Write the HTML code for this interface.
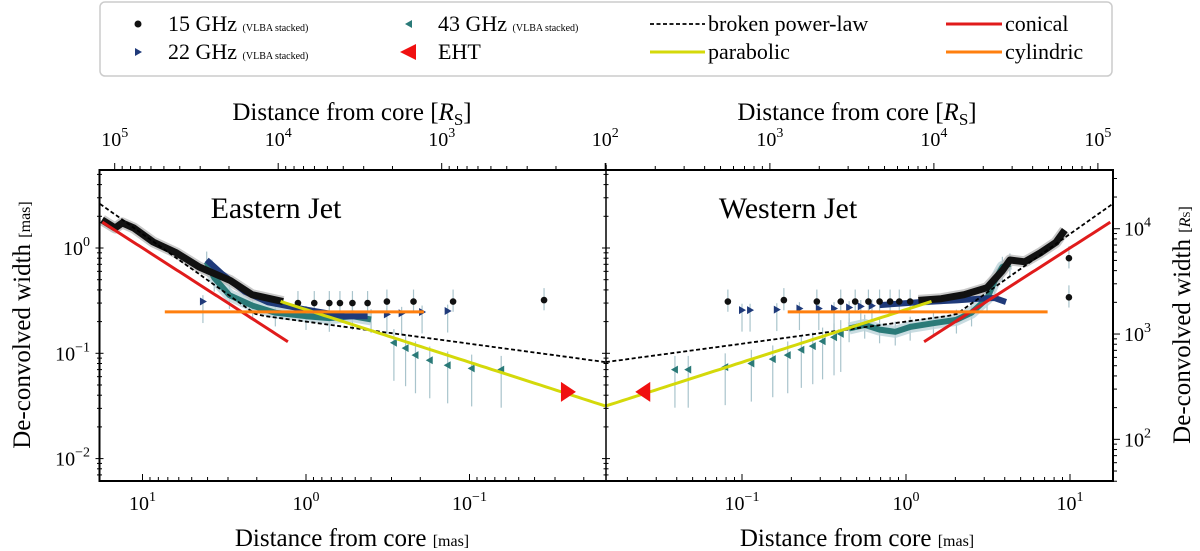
<!DOCTYPE html>
<html><head><meta charset="utf-8">
<style>
html,body{margin:0;padding:0;background:#fff;}
svg{display:block;font-family:"Liberation Serif","DejaVu Serif",serif;}
</style></head>
<body>
<svg id="chart" width="1200" height="551" viewBox="0 0 1200 551" xmlns="http://www.w3.org/2000/svg">
<defs>
<clipPath id="clipL"><rect x="99.5" y="170" width="506.5" height="311"/></clipPath>
<clipPath id="clipR"><rect x="606" y="170" width="507" height="311"/></clipPath>
</defs>
<g id="legend">
<rect x="100" y="2" width="1012" height="74" rx="5" fill="#fff" stroke="#ccc" stroke-width="1.5"/>
<g>
<circle cx="138" cy="24" r="3.5" fill="#111"/>
<text x="168" y="31" font-size="22">15 GHz <tspan font-size="10">(VLBA stacked)</tspan></text></g>
<g>
<polygon points="135,48 142,52 135,56" fill="#1f3a7a"/>
<text x="168" y="59" font-size="22">22 GHz <tspan font-size="10">(VLBA stacked)</tspan></text></g>
<g>
<polygon points="412,20 405,24 412,28" fill="#2a7a78"/>
<text x="438" y="31" font-size="22">43 GHz <tspan font-size="10">(VLBA stacked)</tspan></text></g>
<g>
<polygon points="416,44 400,52 416,60" fill="#f01010"/>
<text x="438" y="59" font-size="22">EHT</text></g>
<g>
<line x1="650" y1="24" x2="705" y2="24" stroke="#000" stroke-width="1.8" stroke-dasharray="4,2.5"/>
<text x="708" y="31" font-size="22">broken power-law</text></g>
<g>
<line x1="650" y1="52" x2="705" y2="52" stroke="#d4d90a" stroke-width="3"/>
<text x="708" y="59" font-size="22">parabolic</text></g>
<g>
<line x1="946" y1="24" x2="1002" y2="24" stroke="#e01b1b" stroke-width="3"/>
<text x="1005" y="31" font-size="22">conical</text></g>
<g>
<line x1="946" y1="52" x2="1002" y2="52" stroke="#ff7f0e" stroke-width="3"/>
<text x="1005" y="59" font-size="22">cylindric</text></g>
</g>
<g id="layer"></g>
</svg>
<script>
// ---- data (mas) ----
const dRange = [0.0148, 17.7];
const para = {k: 0.26, p: 0.5, dmin: 0.0148, dmax: 1.43};
const bpl = {a: 0.2, p1: 0.21, db: 2.0, p2: 1.1};
const conical = {k: 0.1, dmin: 1.29, dmax: 17.6};
const cyl = {w: 0.247, dmin: 0.19, dmax: 7.3};
const ehtD = [0.025];
const ehtW = [0.043];
// 15 GHz
const k15LcurveD = [17.7,14.7,13.3,11.3,8.6,6.2,4.5,2.9,2.14,1.38];
const k15LcurveW = [1.85,1.55,1.73,1.55,1.14,0.90,0.66,0.49,0.36,0.31];
const k15LptsD = [1.12,0.89,0.72,0.62,0.52,0.42,0.32,0.22,0.126,0.035];
const k15LptsW = [0.30,0.30,0.30,0.30,0.30,0.30,0.31,0.31,0.31,0.32];
const k15RptsD = [0.082,0.18,0.286,0.40,0.49,0.59,0.69,0.8,0.91,1.06,9.85,9.85];
const k15RptsW = [0.31,0.32,0.31,0.31,0.31,0.31,0.31,0.31,0.31,0.31,0.80,0.34];
const k15RcurveD = [1.19,1.64,2.26,3.12,3.87,4.3,5.3,6.6,8.2,9.3];
const k15RcurveW = [0.318,0.33,0.36,0.42,0.61,0.77,0.74,0.90,1.13,1.48];
// 22 GHz
const k22LcurveD = [4.05,3.27,2.37,1.71,1.0,0.58,0.42];
const k22LcurveW = [0.77,0.57,0.385,0.305,0.26,0.225,0.225];
const k22LptsD = [4.27,0.32,0.26,0.195,0.136];
const k22LptsW = [0.31,0.234,0.24,0.247,0.252];
const k22RptsD = [0.1,0.112,0.163,0.224,0.294,0.364,0.45,0.53,0.62];
const k22RptsW = [0.257,0.257,0.26,0.266,0.266,0.266,0.272,0.279,0.283];
const k22RcurveD = [0.69,1.19,2.03,2.8,3.47,4.07];
const k22RcurveW = [0.287,0.306,0.318,0.33,0.335,0.307];
// 43 GHz
const q43LcurveD = [4.05,3.64,2.94,2.12,1.54,1.0,0.72,0.52,0.40];
const q43LcurveW = [0.74,0.52,0.356,0.283,0.243,0.225,0.216,0.225,0.21];
const q43LptsD = [0.29,0.246,0.214,0.175,0.136,0.097,0.064];
const q43LptsW = [0.126,0.112,0.096,0.086,0.077,0.072,0.07];
const q43RptsD = [0.039,0.047,0.079,0.114,0.154,0.19,0.23,0.27,0.31,0.364,0.40];
const q43RptsW = [0.07,0.07,0.074,0.08,0.088,0.096,0.108,0.117,0.13,0.142,0.153];
const q43RcurveD = [0.45,0.56,0.69,0.86,1.06,1.47,2.03,2.51,3.12,3.47,3.87,4.3];
const q43RcurveW = [0.172,0.186,0.168,0.16,0.178,0.193,0.208,0.243,0.33,0.486,0.66,0.71];
const rsScale = 6760;

// ---- axes ----
const L = Math.log10;
const xL = d => 306 - 163.5 * L(d);
const xR = d => 906 + 164 * L(d);
const yW = w => 248 - 105.3 * L(w);
const NS = 'http://www.w3.org/2000/svg';
const layer = document.getElementById('layer');
function mk(tag, attrs, parent) {
  const e = document.createElementNS(NS, tag);
  for (const k in attrs) e.setAttribute(k, attrs[k]);
  (parent || layer).appendChild(e);
  return e;
}
const gL = mk('g', {'clip-path': 'url(#clipL)'});


const gR = mk('g', {'clip-path': 'url(#clipR)'});


const sides = [{g: gL, x: xL, s: 'left'}, {g: gR, x: xR, s: 'right'}];

function path(xs, ys, fx, g, st, name) {
  let d = '';
  for (let i = 0; i < xs.length; i++) d += (i ? 'L' : 'M') + fx(xs[i]).toFixed(1) + ',' + yW(ys[i]).toFixed(1);
  const p = mk('path', Object.assign({d: d, fill: 'none'}, st), g);
  
  
  return p;
}
function fnPts(f, a, b) {
  const xs = [], ys = [];
  for (let i = 0; i <= 60; i++) { const d = Math.pow(10, L(a) + (L(b) - L(a)) * i / 60); xs.push(d); ys.push(f(d)); }
  return [xs, ys];
}
function marker(type, cx, cy, fill, g, name, r) {
  let e;
  if (type === 'dot') e = mk('circle', {cx: cx, cy: cy, r: r || 3.3, fill: fill}, g);
  else if (type === 'right') e = mk('polygon', {points: `${cx-3},${cy-4} ${cx+4},${cy} ${cx-3},${cy+4}`, fill: fill}, g);
  else if (type === 'left') e = mk('polygon', {points: `${cx+3},${cy-4} ${cx-4},${cy} ${cx+3},${cy+4}`, fill: fill}, g);
  else if (type === 'bigright') e = mk('polygon', {points: `${cx-7},${cy-10} ${cx+8},${cy} ${cx-7},${cy+10}`, fill: fill}, g);
  else e = mk('polygon', {points: `${cx+7},${cy-10} ${cx-8},${cy} ${cx+7},${cy+10}`, fill: fill}, g);
  
  
}
function errbar(fx, d, w, lo, hi, g, name) {
  const e = mk('line', {x1: fx(d), x2: fx(d), y1: yW(w / lo), y2: yW(w * hi), stroke: '#a9c4cc', 'stroke-width': 1.2}, g);
  
  
}

sides.forEach(S => {
  const left = S.s === 'left';
  const c15D = left ? k15LcurveD : k15RcurveD, c15W = left ? k15LcurveW : k15RcurveW;
  const p15D = left ? k15LptsD : k15RptsD, p15W = left ? k15LptsW : k15RptsW;
  const c22D = left ? k22LcurveD : k22RcurveD, c22W = left ? k22LcurveW : k22RcurveW;
  const p22D = left ? k22LptsD : k22RptsD, p22W = left ? k22LptsW : k22RptsW;
  const c43D = left ? q43LcurveD : q43RcurveD, c43W = left ? q43LcurveW : q43RcurveW;
  const p43D = left ? q43LptsD : q43RptsD, p43W = left ? q43LptsW : q43RptsW;
  c43D.forEach((d, i) => errbar(S.x, d, c43W[i], 1.35, 1.25, S.g, 'error-bar-43ghz'));
  p43D.forEach((d, i) => errbar(S.x, d, p43W[i], 2.3, 1.35, S.g, 'error-bar-43ghz'));
  p15D.forEach((d, i) => errbar(S.x, d, p15W[i], 1.25, 1.3, S.g, 'error-bar-15ghz'));
  p22D.forEach((d, i) => errbar(S.x, d, p22W[i], 1.6, 1.15, S.g, 'error-bar-22ghz'));
  path(c43D, c43W, S.x, S.g, {stroke: '#bcd3d9', 'stroke-width': 12, 'stroke-linejoin': 'round', opacity: 0.8}, 'band-43ghz');
  path(c15D, c15W, S.x, S.g, {stroke: '#bbbbbb', 'stroke-width': 11, 'stroke-linejoin': 'round', opacity: 0.8}, 'band-15ghz');
  path(c43D, c43W, S.x, S.g, {stroke: '#2a7a78', 'stroke-width': 6, 'stroke-linejoin': 'round'}, 'curve-43ghz');
  path(c22D, c22W, S.x, S.g, {stroke: '#1f3a7a', 'stroke-width': 6, 'stroke-linejoin': 'round'}, 'curve-22ghz');
  path(c15D, c15W, S.x, S.g, {stroke: '#111', 'stroke-width': 7, 'stroke-linejoin': 'round'}, 'curve-15ghz');
  p43D.forEach((d, i) => marker('left', S.x(d), yW(p43W[i]), '#2a7a78', S.g, 'point-43ghz'));
  p22D.forEach((d, i) => marker('right', S.x(d), yW(p22W[i]), '#1f3a7a', S.g, 'point-22ghz'));
  p15D.forEach((d, i) => marker('dot', S.x(d), yW(p15W[i]), '#111', S.g, 'point-15ghz'));
  let a = fnPts(d => d < bpl.db ? bpl.a * Math.pow(d, bpl.p1) : bpl.a * Math.pow(bpl.db, bpl.p1) * Math.pow(d / bpl.db, bpl.p2), dRange[0], 20);
  path(a[0], a[1], S.x, S.g, {stroke: '#000', 'stroke-width': 1.8, 'stroke-dasharray': '4,2.5'}, 'broken-power-law-line');
  a = fnPts(d => para.k * Math.pow(d, para.p), para.dmin, para.dmax);
  path(a[0], a[1], S.x, S.g, {stroke: '#d4d90a', 'stroke-width': 3}, 'parabolic-line');
  a = fnPts(d => conical.k * d, conical.dmin, conical.dmax);
  path(a[0], a[1], S.x, S.g, {stroke: '#e01b1b', 'stroke-width': 3}, 'conical-line');
  path([cyl.dmin, cyl.dmax], [cyl.w, cyl.w], S.x, S.g, {stroke: '#ff7f0e', 'stroke-width': 3}, 'cylindric-line');
  ehtD.forEach((d, i) => marker(left ? 'bigright' : 'bigleft', S.x(d), yW(ehtW[i]), '#f01010', S.g, 'point-eht'));
});

// ---- frames & ticks ----
function ln(x1, y1, x2, y2, w, name) {
  const e = mk('line', {x1: x1, y1: y1, x2: x2, y2: y2, stroke: '#000', 'stroke-width': w || 1});
  
  
}
function txt(x, y, base, exp, size, anchor, name) {
  const t = mk('text', {x: x, y: y, 'font-size': size, 'text-anchor': anchor || 'middle'});
  t.textContent = base;
  if (exp !== null) { const s = mk('tspan', {dy: -9, 'font-size': size * 0.7}, t); s.textContent = exp; }
  
  
}
const frame = mk('rect', {x: 99.5, y: 170, width: 1013.5, height: 311, fill: 'none', stroke: '#000', 'stroke-width': 2});


ln(606, 165, 606, 481, 1.5, 'panel-divider');

function logTicks(lo, hi, cb) {
  for (let e = Math.floor(lo) - 1; e <= Math.ceil(hi); e++)
    for (let m = 1; m < 10; m++) { const v = L(m) + e; if (v >= lo - 1e-6 && v <= hi + 1e-6) cb(v, m === 1, e); }
}
logTicks(-1.83, 1.27, (v, maj, e) => {
  const x = 306 - 163.5 * v; const len = maj ? 7 : 4;
  ln(x, 481, x, 481 - len, 1, 'bottom-tick-left');
  if (maj) txt(x, 510, '10', String(e).replace('-', '\u2212'), 20, 'middle', 'x-tick-label-left');
});
logTicks(-1.83, 1.26, (v, maj, e) => {
  const x = 906 + 164 * v; const len = maj ? 7 : 4;
  ln(x, 481, x, 481 - len, 1, 'bottom-tick-right');
  if (maj) txt(x, 510, '10', String(e).replace('-', '\u2212'), 20, 'middle', 'x-tick-label-right');
});
const rsOff = L(rsScale);
logTicks(2.0, 5.1, (v, maj, e) => {
  const x = 306 - 163.5 * (v - rsOff); if (x < 99 || x > 607) return; const len = maj ? 7 : 4;
  ln(x, 170, x, 170 - len, 1, 'top-tick-left');
  if (maj) txt(x, 146, '10', String(e), 20, 'middle', 'top-tick-label-left');
});
logTicks(2.0, 5.1, (v, maj, e) => {
  const x = 906 + 164 * (v - rsOff); if (x < 605 || x > 1114) return; const len = maj ? 7 : 4;
  ln(x, 170, x, 170 - len, 1, 'top-tick-right');
  if (maj && x > 610) txt(x, 146, '10', String(e), 20, 'middle', 'top-tick-label-right');
});
logTicks(-2.21, 0.74, (v, maj, e) => {
  const y = 248 - 105.3 * v; const len = maj ? 4 : 2.5;
  ln(99.5 - len, y, 99.5 + len, y, 1, 'y-tick-left');
  ln(606 - len, y, 606 + len, y, 1, 'y-tick-divider');
  if (maj) txt(90, y + 7, '10', String(e).replace('-', '\u2212'), 20, 'end', 'y-tick-label-left');
});
const rsW = 3.817;
logTicks(1.6, 4.56, (v, maj, e) => {
  const y = 248 - 105.3 * (v - rsW); const len = maj ? 7 : 4;
  ln(1113, y, 1113 + len, y, 1, 'y-tick-right');
  if (maj) txt(1124, y + 7, '10', String(e), 20, 'start', 'y-tick-label-right');
});
</script>
<script>
const svg = document.getElementById('chart');
function T(html) { svg.insertAdjacentHTML('beforeend', html); }
T('<text x="352" y="120" font-size="25" text-anchor="middle">Distance from core [<tspan font-style="italic">R</tspan><tspan font-size="17" dy="5">S</tspan><tspan dy="-5">]</tspan></text>');
T('<text x="857" y="120" font-size="25" text-anchor="middle">Distance from core [<tspan font-style="italic">R</tspan><tspan font-size="17" dy="5">S</tspan><tspan dy="-5">]</tspan></text>');
T('<text x="352" y="546" font-size="25" text-anchor="middle">Distance from core <tspan font-size="16">[mas]</tspan></text>');
T('<text x="857" y="546" font-size="25" text-anchor="middle">Distance from core <tspan font-size="16">[mas]</tspan></text>');
T('<text transform="translate(30,325) rotate(-90)" font-size="25" text-anchor="middle">De-convolved width <tspan font-size="16">[mas]</tspan></text>');
T('<text transform="translate(1190,325) rotate(-90)" font-size="25" text-anchor="middle">De-convolved width <tspan font-size="16">[<tspan font-style="italic">R</tspan><tspan font-size="11">S</tspan>]</tspan></text>');
T('<text x="276" y="218" font-size="30" text-anchor="middle">Eastern Jet</text>');
T('<text x="788" y="218" font-size="30" text-anchor="middle">Western Jet</text>');
</script>
</body></html>
